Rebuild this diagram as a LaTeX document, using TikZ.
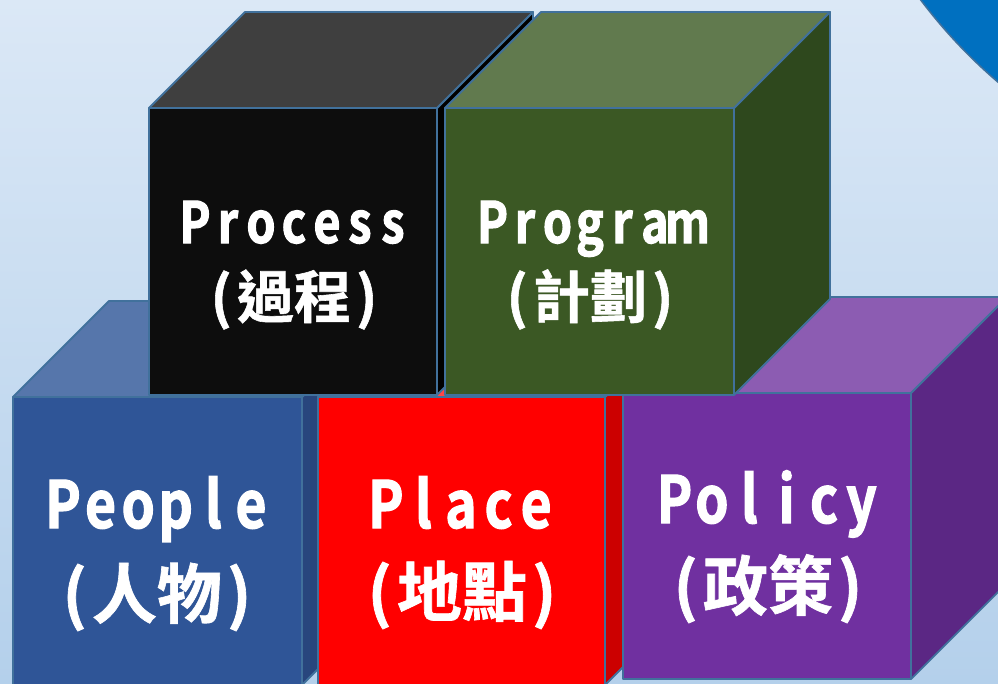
\documentclass[tikz,border=0pt]{standalone}
\usepackage{fontspec}
\newfontfamily\cjkb{Noto Sans CJK TC Bold}[FakeBold=1]
\newfontfamily\latb{Noto Sans CJK TC Bold}[FakeStretch=0.82,FakeBold=1.8]
\definecolor{bgtop}{RGB}{219,232,246}
\definecolor{bgbot}{RGB}{180,208,235}
\definecolor{edgeblue}{RGB}{65,113,156}
\definecolor{circblue}{RGB}{0,112,192}
\definecolor{proF}{RGB}{13,13,13}
\definecolor{proT}{RGB}{63,63,63}
\definecolor{proR}{RGB}{0,0,0}
\definecolor{prgF}{RGB}{59,88,36}
\definecolor{prgT}{RGB}{97,122,78}
\definecolor{prgR}{RGB}{46,72,29}
\definecolor{peoF}{RGB}{47,85,151}
\definecolor{peoT}{RGB}{86,118,171}
\definecolor{peoR}{RGB}{40,70,125}
\definecolor{plaF}{RGB}{255,0,0}
\definecolor{plaT}{RGB}{255,70,70}
\definecolor{plaR}{RGB}{204,0,0}
\definecolor{polF}{RGB}{112,48,160}
\definecolor{polT}{RGB}{140,92,178}
\definecolor{polR}{RGB}{91,39,132}
\newcommand\spread[2]{\def\sppitch{#1}\spreadloop#2\relax}
\def\spreadloop#1{\ifx\relax#1\else\makebox[\sppitch][c]{#1}\expandafter\spreadloop\fi}
\newcommand\drawcube[7]{%
  \filldraw[edge, fill=#7] (#1+#3,#2) -- ++(96,-96) -- ++(0,#4) -- ++(-96,96) -- cycle;
  \filldraw[edge, fill=#6] (#1,#2) -- ++(96,-96) -- ++(#3,0) -- ++(-96,96) -- cycle;
  \filldraw[edge, fill=#5] (#1,#2) rectangle ++(#3,#4);
}
\begin{document}
\begin{tikzpicture}[x=1pt,y=-1pt,
  edge/.style={draw=edgeblue, line width=1.8pt, line join=round},
  latA/.style={text=white, anchor=base, inner sep=0pt, font={\latb\fontsize{57pt}{60pt}\selectfont}},
  cjkA/.style={text=white, anchor=base, inner sep=0pt, font={\cjkb\fontsize{57pt}{60pt}\selectfont}},
  latB/.style={text=white, anchor=base, inner sep=0pt, font={\latb\fontsize{65pt}{68pt}\selectfont}},
  cjkB/.style={text=white, anchor=base, inner sep=0pt, font={\cjkb\fontsize{65pt}{68pt}\selectfont}}]
\useasboundingbox (0,0) rectangle (998,683);
\clip (0,0) rectangle (998,683);
\shade[top color=bgtop, bottom color=bgbot] (0,0) rectangle (998,683);
\filldraw[draw=edgeblue, line width=1.5pt, fill=circblue] (1336,-313) circle[radius=520];
% bottom row
\drawcube{13}{397}{289}{288}{peoF}{peoT}{peoR}
\drawcube{318}{397}{287}{288}{plaF}{plaT}{plaR}
\drawcube{623}{393}{288}{286}{polF}{polT}{polR}
% top row
\drawcube{149}{108}{288}{287}{proF}{proT}{proR}
\drawcube{445}{108}{289}{287}{prgF}{prgT}{prgR}
% labels
\node[latA] (proE) at (294,243) {\spread{33pt}{Process}};
\node[cjkA] (proC) at (294,318) {(\kern5pt 過程\kern5pt)};
\node[latA] (prgE) at (590,243) {\spread{32.5pt}{Program}};
\node[cjkA] (prgC) at (590,318) {(\kern5pt 計劃\kern5pt)};
\node[latB] (peoE) at (157,528) {\spread{37.6pt}{People}};
\node[cjkB] (peoC) at (157,618) {(\kern5pt 人物\kern5pt)};
\node[latB] (plaE) at (461,528) {\spread{37.6pt}{Place}};
\node[cjkB] (plaC) at (462,616) {(\kern5pt 地點\kern5pt)};
\node[latB] (polE) at (768,523) {\spread{37.4pt}{Policy}};
\node[cjkB] (polC) at (768,610) {(\kern5pt 政策\kern5pt)};
\end{tikzpicture}
\end{document}
